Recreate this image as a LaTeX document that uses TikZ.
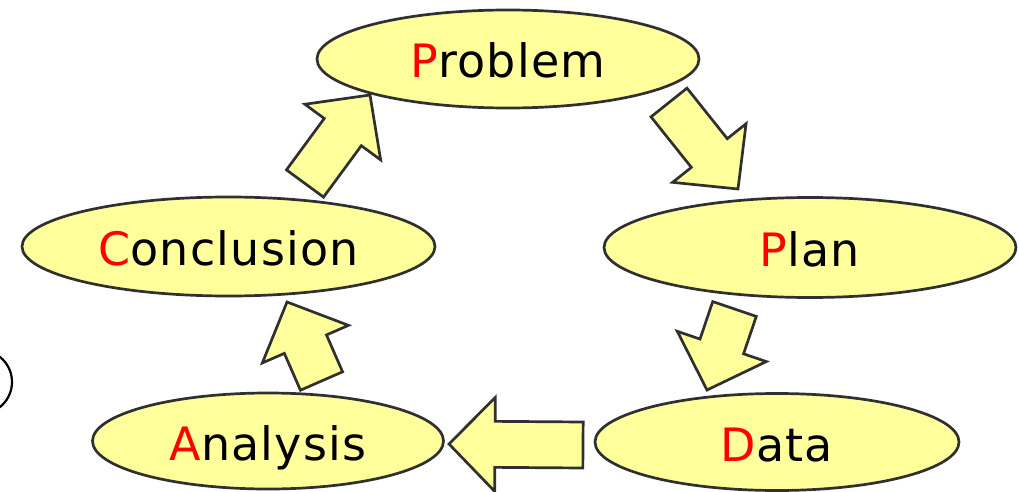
\documentclass[tikz,border=0pt]{standalone}
\usepackage{fontspec}
\setmainfont{DejaVu Sans}[LetterSpace=2.6]
\usetikzlibrary{calc,shapes.geometric}

\definecolor{cyclefill}{HTML}{FFFF9C}
\definecolor{cycleline}{HTML}{303030}

\tikzset{
  stage/.style={ellipse, draw=cycleline, fill=cyclefill, line width=2.7pt,
    inner sep=0pt, text height=38pt, text depth=0pt,
    font=\fontsize{46}{50}\selectfont},
  blockarrow/.style={draw=cycleline, fill=cyclefill, line width=2.7pt,
    line join=miter},
}

% wide arrow from the middle of its tail (#1) to its tip (#2)
\newcommand\blockarrow[2]{%
  \coordinate (#1-#2-n) at ($(#2)!46pt!(#1)$);
  \draw[blockarrow]
    ($(#1)!23pt!90:(#2)$) -- ($(#1-#2-n)!23pt!-90:(#1)$)
    -- ($(#1-#2-n)!47pt!-90:(#1)$) -- (#2)
    -- ($(#1-#2-n)!47pt!90:(#1)$) -- ($(#1-#2-n)!23pt!90:(#1)$)
    -- ($(#1)!23pt!-90:(#2)$) -- cycle;}

\newcommand\stagename[2]{{\color{red}#1}#2}

\begin{document}
\begin{tikzpicture}[x=1pt, y=-1pt]
  \useasboundingbox (0,0) rectangle (1019,492);
  \clip (0,0) rectangle (1019,492);

  % stages of the cycle
  \node[stage, minimum width=382pt, minimum height=98pt] (problem) at (508,59)
    {\stagename{P}{roblem}};
  \node[stage, minimum width=412pt, minimum height=100pt] (plan) at (810,247.5)
    {\stagename{P}{lan}};
  \node[stage, minimum width=364pt, minimum height=97pt] (data) at (777,442)
    {\stagename{D}{ata}};
  \node[stage, minimum width=351pt, minimum height=96pt] (analysis) at (268,441)
    {\stagename{A}{nalysis}};
  \node[stage, minimum width=413pt, minimum height=99pt] (conclusion) at (228.5,246.5)
    {\stagename{C}{onclusion}};

  % tails and tips of the wide arrows
  \coordinate (pb-tail) at (669,102.5);   \coordinate (pb-tip) at (738,189);
  \coordinate (pl-tail) at (734.5,309);   \coordinate (pl-tip) at (707,390);
  \coordinate (da-tail) at (583,445);     \coordinate (da-tip) at (449,444);
  \coordinate (an-tail) at (321.5,381);   \coordinate (an-tip) at (287,302);
  \coordinate (co-tail) at (305,183.5);   \coordinate (co-tip) at (370,95);

  \blockarrow{pb-tail}{pb-tip}
  \blockarrow{pl-tail}{pl-tip}
  \blockarrow{da-tail}{da-tip}
  \blockarrow{an-tail}{an-tip}
  \blockarrow{co-tail}{co-tip}

  % ring at the left margin
  \node[circle, draw=black, line width=2.2pt, minimum size=64pt, inner sep=0pt]
    (ring) at (-20,382) {};
\end{tikzpicture}
\end{document}
